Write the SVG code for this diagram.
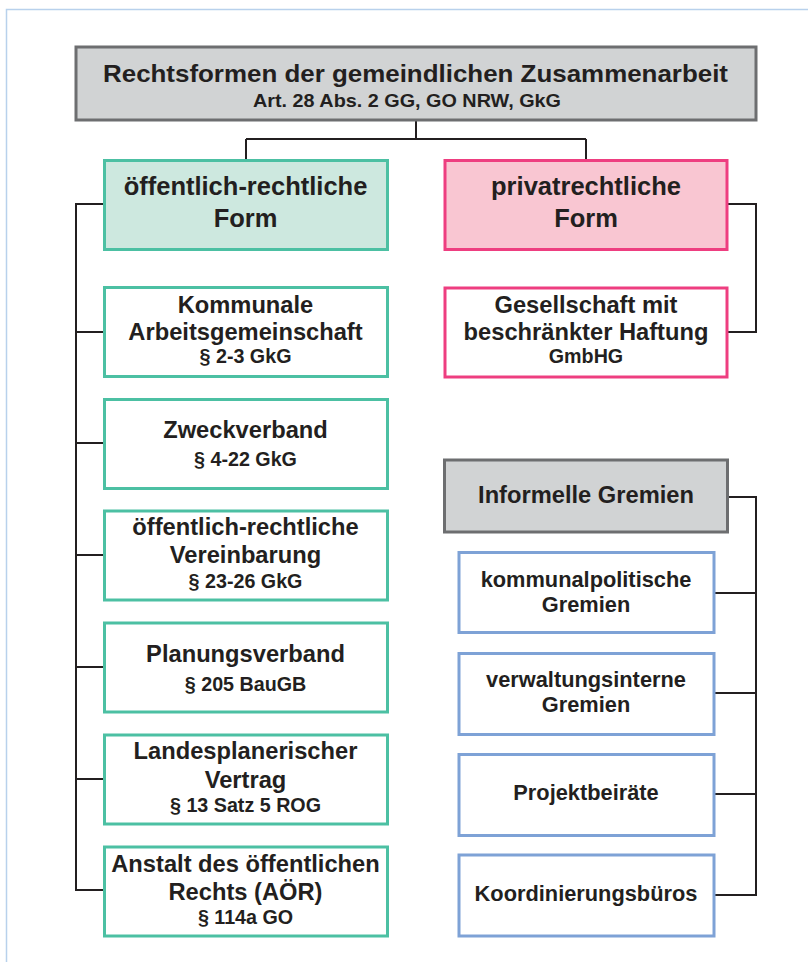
<svg xmlns="http://www.w3.org/2000/svg" width="808" height="962" viewBox="0 0 808 962">
<style>
text{font-family:"Liberation Sans",Arial,sans-serif;font-weight:bold;fill:#231f20;text-anchor:middle}
.grey{fill:#d1d3d4;stroke:#6d6e70;stroke-width:3}
.teal{fill:#ffffff;stroke:#4cc0a3;stroke-width:3}
.tealf{fill:#cde8df;stroke:#4cc0a3;stroke-width:3}
.pink{fill:#ffffff;stroke:#ee3e80;stroke-width:3}
.pinkf{fill:#f9c6d2;stroke:#ee3e80;stroke-width:3}
.blue{fill:#ffffff;stroke:#7ea2d6;stroke-width:3}
.t25{font-size:25.5px}
.t24{font-size:23.7px}
.t22{font-size:21.8px}
.s20{font-size:19.7px}
.conn{fill:none;stroke:#231f20;stroke-width:2}
</style>
<rect x="0" y="0" width="808" height="962" fill="#ffffff"/>
<rect x="6.5" y="9.5" width="900" height="1000" fill="none" stroke="#b8d1ec" stroke-width="1.5"/>
<g id="connectors" class="conn">
<path d="M416 121V139M246 139H586M246 139V159M586 139V159"/>
<path d="M103 204H76V890H103M76 332H103M76 443H103M76 555H103M76 667H103M76 779H103"/>
<path d="M728 204H756V332H728"/>
<path d="M728 497H756V895H714M714 593H756M714 693H756M714 794H756"/>
</g>
<g id="title">
<rect class="grey" x="76" y="47" width="680" height="73"/>
<text x="415.5" y="82" font-size="24.5" textLength="625" lengthAdjust="spacingAndGlyphs">Rechtsformen der gemeindlichen Zusammenarbeit</text>
<text x="407" y="107" font-size="18.5" textLength="308" lengthAdjust="spacingAndGlyphs">Art. 28 Abs. 2 GG, GO NRW, GkG</text>
</g>
<g id="oeffentlich">
<rect class="tealf" x="104.5" y="160.5" width="283" height="89"/>
<text class="t25" x="245.5" y="195">öffentlich-rechtliche</text>
<text class="t25" x="245.5" y="227">Form</text>
</g>
<g id="privat">
<rect class="pinkf" x="445" y="160.5" width="282" height="89"/>
<text class="t25" x="586" y="195">privatrechtliche</text>
<text class="t25" x="586" y="227">Form</text>
</g>
<g id="gmbh">
<rect class="pink" x="445" y="288" width="282" height="89"/>
<text class="t24" x="586" y="312.7">Gesellschaft mit</text>
<text class="t24" x="586" y="340">beschränkter Haftung</text>
<text class="s20" x="586" y="362.7">GmbHG</text>
</g>
<g id="kommunale">
<rect class="teal" x="104.5" y="287.5" width="283" height="89"/>
<text class="t24" x="245.5" y="312.7">Kommunale</text>
<text class="t24" x="245.5" y="340">Arbeitsgemeinschaft</text>
<text class="s20" x="245.5" y="362.7">§ 2-3 GkG</text>
</g>
<g id="zweckverband">
<rect class="teal" x="104.5" y="399.5" width="283" height="89"/>
<text class="t24" x="245.5" y="438">Zweckverband</text>
<text class="s20" x="245.5" y="466">§ 4-22 GkG</text>
</g>
<g id="vereinbarung">
<rect class="teal" x="104.5" y="511" width="283" height="89"/>
<text class="t24" x="245.5" y="535">öffentlich-rechtliche</text>
<text class="t24" x="245.5" y="562.7">Vereinbarung</text>
<text class="s20" x="245.5" y="588">§ 23-26 GkG</text>
</g>
<g id="planungsverband">
<rect class="teal" x="104.5" y="623" width="283" height="89"/>
<text class="t24" x="245.5" y="661.7">Planungsverband</text>
<text class="s20" x="245.5" y="690.7">§ 205 BauGB</text>
</g>
<g id="landesplanerisch">
<rect class="teal" x="104.5" y="735" width="283" height="89"/>
<text class="t24" x="245.5" y="759.3">Landesplanerischer</text>
<text class="t24" x="245.5" y="787.7">Vertrag</text>
<text class="s20" x="245.5" y="811.7">§ 13 Satz 5 ROG</text>
</g>
<g id="anstalt">
<rect class="teal" x="104.5" y="847" width="283" height="89"/>
<text class="t24" x="245.5" y="871.7">Anstalt des öffentlichen</text>
<text class="t24" x="245.5" y="900">Rechts (AÖR)</text>
<text class="s20" x="245.5" y="924">§ 114a GO</text>
</g>
<g id="informelle">
<rect class="grey" x="444.5" y="460" width="283" height="72"/>
<text class="t24" x="586" y="503.3">Informelle Gremien</text>
</g>
<g id="kommunalpolitisch">
<rect class="blue" x="459" y="552.5" width="255" height="80"/>
<text class="t22" x="586" y="586.7">kommunalpolitische</text>
<text class="t22" x="586" y="611.7">Gremien</text>
</g>
<g id="verwaltungsintern">
<rect class="blue" x="459" y="653.5" width="255" height="81"/>
<text class="t22" x="586" y="686.7">verwaltungsinterne</text>
<text class="t22" x="586" y="711.7">Gremien</text>
</g>
<g id="projektbeiraete">
<rect class="blue" x="459" y="754.5" width="255" height="81"/>
<text class="t22" x="586" y="800">Projektbeiräte</text>
</g>
<g id="koordinierung">
<rect class="blue" x="459" y="855" width="255" height="81"/>
<text class="t22" x="586" y="900.7">Koordinierungsbüros</text>
</g>
</svg>
